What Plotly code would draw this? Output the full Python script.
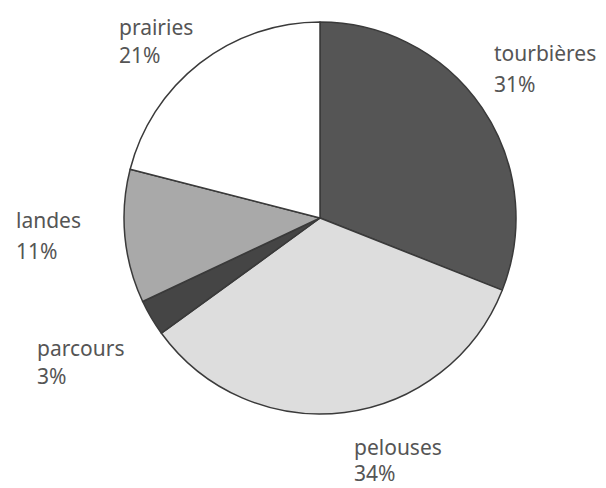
import plotly.graph_objects as go

categories = ["tourbières", "pelouses", "parcours", "landes", "prairies"]
values = [31, 34, 3, 11, 21]
colors = ["#555555", "#dddddd", "#454545", "#a9a9a9", "#ffffff"]

W, H = 606, 488
cx, cy, r = 320, 218, 196

fig = go.Figure(go.Pie(
    labels=categories, values=values, sort=False, direction="clockwise",
    rotation=0, textinfo="none", hoverinfo="label+percent",
    marker=dict(colors=colors, line=dict(color="#3a3a3a", width=1.5)),
    domain=dict(x=[(cx - r) / W, (cx + r) / W], y=[1 - (cy + r) / H, 1 - (cy - r) / H]),
    showlegend=False,
))

# label positions in pixels (left x, name center y, pct center y)
label_pos = {
    "prairies": (117, 27, 55),
    "tourbières": (492, 53, 84),
    "landes": (14, 220, 251),
    "parcours": (35, 348, 376),
    "pelouses": (352, 447, 473),
}
font = dict(family="Noto Sans, DejaVu Sans, sans-serif", size=21, color="#555555")
total = sum(values)
for cat, v in zip(categories, values):
    x, y1, y2 = label_pos[cat]
    pct = f"{round(100 * v / total)}%"
    for txt, yy in ((cat, y1), (pct, y2)):
        fig.add_annotation(x=x / W, y=1 - yy / H, xref="paper", yref="paper",
                           text=txt, showarrow=False, xanchor="left", yanchor="middle",
                           font=font)

fig.update_layout(width=W, height=H, margin=dict(l=0, r=0, t=0, b=0),
                  paper_bgcolor="white", plot_bgcolor="white")
fig.write_html("out.html", config={"displayModeBar": False},
               post_script="document.body.style.margin='0';")
